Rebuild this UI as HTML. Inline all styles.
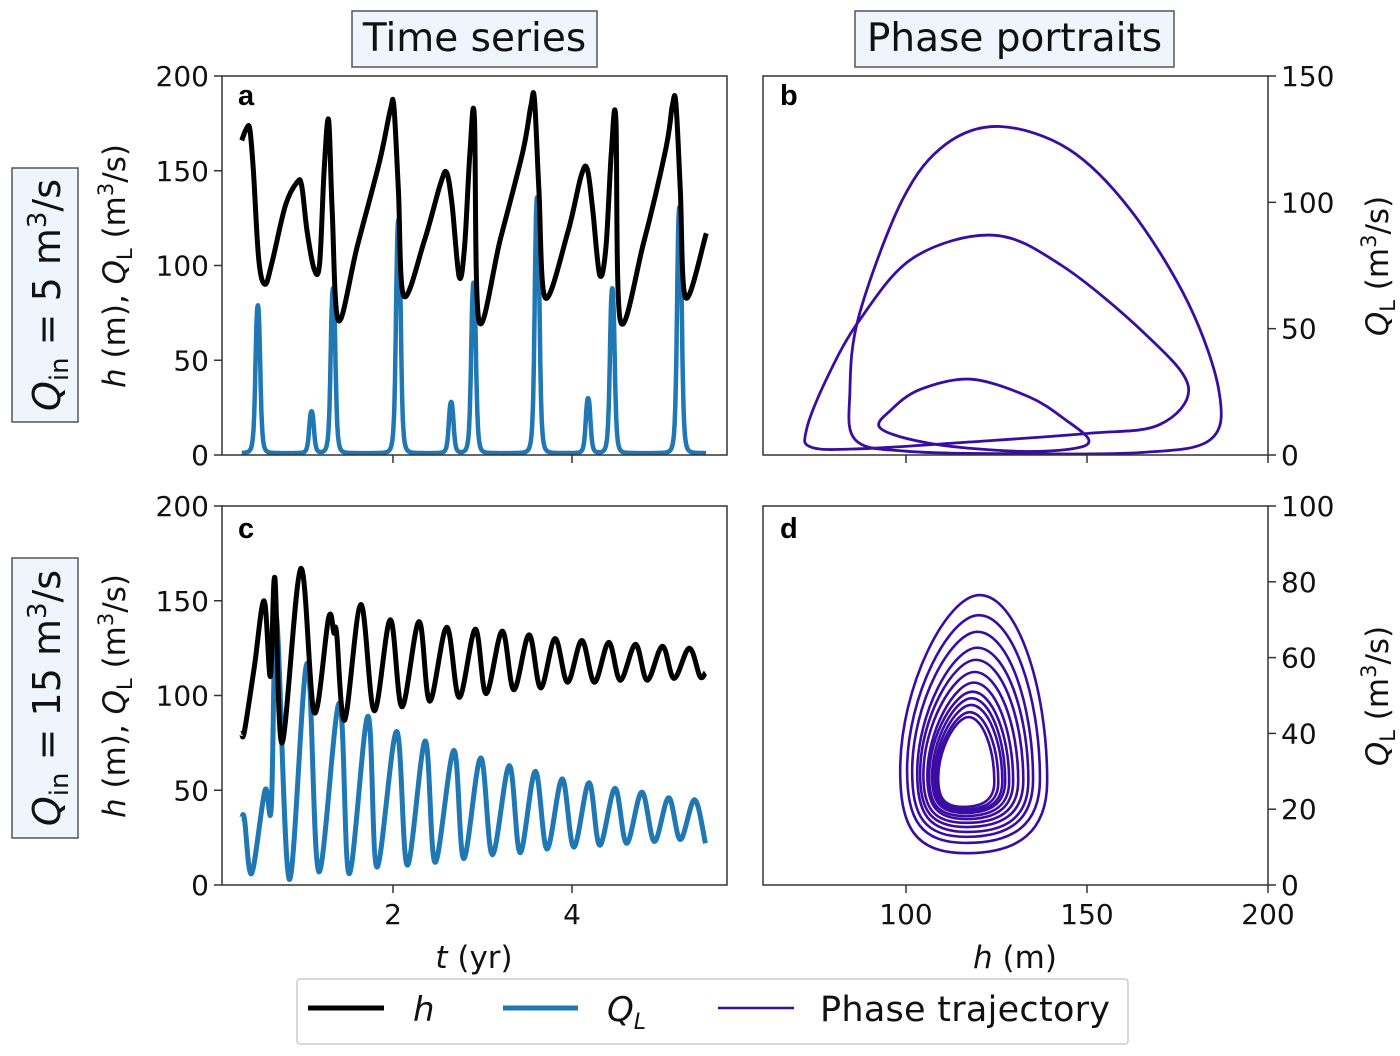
<!DOCTYPE html>
<html><head><meta charset="utf-8">
<style>
html,body{margin:0;padding:0;background:#fff;}
svg{display:block;font-family:"DejaVu Sans","Liberation Sans",sans-serif;}
</style></head>
<body>
<svg id="fig" width="1400" height="1056" viewBox="0 0 1400 1056" xmlns="http://www.w3.org/2000/svg">
<g>
<rect x="352" y="11" width="245" height="56" fill="#eef5fd" stroke="#555" stroke-width="1.5"/>
<text x="474.5" y="51" font-size="39" text-anchor="middle" fill="#111">Time series</text>
</g>
<g>
<rect x="855" y="11" width="319" height="56" fill="#eef5fd" stroke="#555" stroke-width="1.5"/>
<text x="1014.5" y="51" font-size="39" text-anchor="middle" fill="#111">Phase portraits</text>
</g>
<g>
<rect x="12" y="168" width="66" height="254" fill="#eef5fd" stroke="#555" stroke-width="1.5"/>
<text transform="translate(60,295) rotate(-90)" font-size="38" text-anchor="middle" fill="#111"><tspan font-style="italic">Q</tspan><tspan font-size="26" dy="8">in</tspan><tspan dy="-8"> = 5 m</tspan><tspan font-size="26" dy="-14">3</tspan><tspan dy="14">/s</tspan></text>
</g>
<g>
<rect x="12" y="558" width="66" height="280" fill="#eef5fd" stroke="#555" stroke-width="1.5"/>
<text transform="translate(60,698) rotate(-90)" font-size="38" text-anchor="middle" fill="#111"><tspan font-style="italic">Q</tspan><tspan font-size="26" dy="8">in</tspan><tspan dy="-8"> = 15 m</tspan><tspan font-size="26" dy="-14">3</tspan><tspan dy="14">/s</tspan></text>
</g>
<text transform="translate(125,266) rotate(-90)" font-size="31" text-anchor="middle" fill="#111"><tspan font-style="italic">h</tspan> (m), <tspan font-style="italic">Q</tspan><tspan font-size="21" dy="7">L</tspan><tspan dy="-7"> (m</tspan><tspan font-size="21" dy="-12">3</tspan><tspan dy="12">/s)</tspan></text>
<text transform="translate(125,696) rotate(-90)" font-size="31" text-anchor="middle" fill="#111"><tspan font-style="italic">h</tspan> (m), <tspan font-style="italic">Q</tspan><tspan font-size="21" dy="7">L</tspan><tspan dy="-7"> (m</tspan><tspan font-size="21" dy="-12">3</tspan><tspan dy="12">/s)</tspan></text>
<text transform="translate(1388,266) rotate(-90)" font-size="31" text-anchor="middle" fill="#111"><tspan font-style="italic">Q</tspan><tspan font-size="21" dy="7">L</tspan><tspan dy="-7"> (m</tspan><tspan font-size="21" dy="-12">3</tspan><tspan dy="12">/s)</tspan></text>
<text transform="translate(1388,696) rotate(-90)" font-size="31" text-anchor="middle" fill="#111"><tspan font-style="italic">Q</tspan><tspan font-size="21" dy="7">L</tspan><tspan dy="-7"> (m</tspan><tspan font-size="21" dy="-12">3</tspan><tspan dy="12">/s)</tspan></text>
<text x="474" y="968" font-size="31" text-anchor="middle" fill="#111"><tspan font-style="italic">t</tspan> (yr)</text>
<text x="1015" y="968" font-size="31" text-anchor="middle" fill="#111"><tspan font-style="italic">h</tspan> (m)</text>
<g id="plots"></g>
<g>
<rect x="297" y="979" width="831" height="65" fill="#fff" stroke="#ccc" stroke-width="1.5" rx="3"/>
<g>
<line x1="308" y1="1008" x2="384" y2="1008" stroke="#000" stroke-width="5"/>
<text x="413" y="1021" font-size="34" font-style="italic" fill="#111">h</text></g>
<g>
<line x1="503" y1="1008" x2="578" y2="1008" stroke="#1f77b4" stroke-width="5"/>
<text x="607" y="1021" font-size="34" fill="#111"><tspan font-style="italic">Q</tspan><tspan font-size="22" font-style="italic" dy="8">L</tspan></text></g>
<g>
<line x1="718" y1="1008" x2="794" y2="1008" stroke="#3a0ca3" stroke-width="2.5"/>
<text x="820" y="1021" font-size="35" fill="#111" textLength="290">Phase trajectory</text></g>
</g>
</svg>
<script>
// ---- data: panel a (Q_in = 5) ----
const aHT=[0.31,0.36,0.40,0.44,0.50,0.57,0.65,0.80,0.93,0.98,1.04,1.12,1.18,1.23,1.28,1.32,1.39,1.60,1.85,1.97,2.01,2.06,2.12,2.35,2.53,2.60,2.66,2.74,2.80,2.86,2.91,2.96,3.20,3.45,3.54,3.58,3.63,3.70,3.95,4.10,4.17,4.23,4.31,4.38,4.44,4.49,4.54,4.80,5.05,5.12,5.16,5.21,5.27,5.50];
const aHV=[166,172,172,150,103,90,102,132,144,142,118,98,101,150,177,130,71,110,155,182,184,140,84,113,143,149,132,94,110,160,178,71,114,160,184,188,140,83,117,147,151,130,95,110,160,177,71,112,162,184,186,140,83,117];
const aQPeakT=[0.49,1.09,1.33,2.06,2.65,2.90,3.61,4.18,4.45,5.20];
const aQPeakV=[78,22,87,123,27,90,135,29,87,130];
// ---- data: panel c (Q_in = 15) ----
const cHT=[0.31,0.34,0.45,0.56,0.63,0.68,0.76,0.97,1.12,1.28,1.34,1.37,1.46,1.64,1.79,1.97,2.10,2.29,2.41,2.60,2.74,2.92,3.04,3.22,3.35,3.52,3.65,3.81,3.95,4.11,4.25,4.41,4.54,4.71,4.84,5.01,5.14,5.31,5.43,5.49];
const cHV=[80,81,115,150,110,162,75,167,91,141,133,133,87,148,92,140,94,139,97,136,99,135,101,134,103,132,104,130,107,129,107,128,108,127,108,126,109,125,110,112];
const cQT=[0.31,0.34,0.42,0.57,0.64,0.70,0.84,1.04,1.17,1.40,1.51,1.72,1.82,2.04,2.16,2.36,2.47,2.68,2.79,2.98,3.11,3.30,3.42,3.59,3.72,3.89,4.02,4.19,4.31,4.48,4.61,4.78,4.92,5.08,5.21,5.37,5.49];
const cQV=[35,35,6,50,41,141,3,117,7,96,6,89,9.5,81,10.5,76,12,71,14,67,16,63,17,60,19,56,20,54,21,51,22,49,23,46,24,45,22];
// ---- data: panel b loops (h, Q) ----
const bLoop1H=[126,145,162,178,186.5,184,165,130,100,86,84.5,87,99,111];
const bLoop1Q=[130,121,97,60,25,6,1,0.5,1.5,6,25,55,101,123];
const bLoop2H=[124,143,166,178,170,150,116,88,74,72.5,78,87,102];
const bLoop2Q=[87,75,48,27,12,8.5,5,2.5,3,10,30,53,78];
const bLoop3H=[118,134,144,150.5,146,130,107,93,96,104];
const bLoop3Q=[30,23,14,6,2.5,1.5,4.5,10.5,18,26];
// ---- data: panel d nested loops ----
const dTopQ=[76.5,71.2,66.8,62.6,59.4,56.2,53.4,51,49.3,47.5,45.6,44.3];
const dBottomQ=[8.4,11.1,12.7,14,15.3,16.4,17.4,18.2,19,19.5,20,20.6];
const dLeftH=[98.4,100.3,101.7,103.1,103.9,104.8,105.9,106.4,107.2,107.8,108.3,108.9];
const dRightH=[139,137,135.1,133.8,132.4,131,129.6,128.5,127.4,126.6,125.5,124.4];
// tick labels
const hTicks=[0,50,100,150,200];
const tTicks=[2,4];
const bQTicks=[0,50,100,150];
const dQTicks=[0,20,40,60,80,100];
const dHTicks=[100,150,200];

const NS='http://www.w3.org/2000/svg';
const root=document.getElementById('plots');
function mk(tag,attrs,parent){const e=document.createElementNS(NS,tag);for(const k in attrs)e.setAttribute(k,attrs[k]);(parent||root).appendChild(e);return e;}
function lin(d0,d1,p0,p1){return v=>p0+(v-d0)*(p1-p0)/(d1-d0);}
function crPath(pts,closed){
  const n=pts.length;let d='M'+pts[0][0].toFixed(1)+','+pts[0][1].toFixed(1);
  const last=closed?n:n-1;
  for(let i=0;i<last;i++){
    const p0=pts[closed?(i-1+n)%n:Math.max(i-1,0)],p1=pts[i],p2=pts[(i+1)%n],p3=pts[closed?(i+2)%n:Math.min(i+2,n-1)];
    const c1=[p1[0]+(p2[0]-p0[0])/6,p1[1]+(p2[1]-p0[1])/6],c2=[p2[0]-(p3[0]-p1[0])/6,p2[1]-(p3[1]-p1[1])/6];
    d+='C'+c1.map(v=>v.toFixed(1))+' '+c2.map(v=>v.toFixed(1))+' '+p2[0].toFixed(1)+','+p2[1].toFixed(1);
  }
  return d+(closed?'Z':'');
}
function frame(x,y,w,h,name){const r=mk('rect',{x:x,y:y,width:w,height:h,fill:'none',stroke:'#333','stroke-width':1.5});}
function yTicksLeft(ticks,sy,x,name){const g=mk('g',{});
  ticks.forEach(v=>{const y=sy(v);mk('line',{x1:x-8,x2:x,y1:y,y2:y,stroke:'#333','stroke-width':1.5},g);const t=mk('text',{x:x-13,y:y+10,'font-size':28,'text-anchor':'end',fill:'#111'},g);t.textContent=v;});}
function yTicksRight(ticks,sy,x,name){const g=mk('g',{});
  ticks.forEach(v=>{const y=sy(v);mk('line',{x1:x,x2:x+8,y1:y,y2:y,stroke:'#333','stroke-width':1.5},g);const t=mk('text',{x:x+13,y:y+10,'font-size':28,'text-anchor':'start',fill:'#111'},g);t.textContent=v;});}
function xTicks(ticks,sx,y,labels,name){const g=mk('g',{});
  ticks.forEach(v=>{const x=sx(v);mk('line',{x1:x,x2:x,y1:y,y2:y+8,stroke:'#333','stroke-width':1.5},g);if(labels){const t=mk('text',{x:x,y:y+39,'font-size':28,'text-anchor':'middle',fill:'#111'},g);t.textContent=v;}});}
function letter(x,y,s,name){const t=mk('text',{x:x,y:y,'font-size':29,'font-weight':'bold',fill:'#000','font-family':'Liberation Sans, sans-serif'});t.textContent=s;}

const sxT=lin(0,1,214,303.5);
const syA=lin(0,200,455,76);
const syC=lin(0,200,885,506);
const sxH=lin(100,150,906,1087);
const syB=lin(0,150,455,76);
const syD=lin(0,100,885,506);

const defs=mk('defs',{});
[['ca',222,76],['cb',763,76],['cc',222,506],['cd',763,506]].forEach(c=>{const cp=mk('clipPath',{id:c[0]},defs);mk('rect',{x:c[1],y:c[2],width:505,height:379},cp);});

// panel a
const gA=mk('g',{'clip-path':'url(#ca)'});


{
  const qpts=[];for(let t=0.31;t<=5.5;t+=0.004){let q=1;aQPeakT.forEach((tp,i)=>{const z=(t-tp)/0.03;q+=aQPeakV[i]/(1+z*z*z*z*0.6+z*z*0.4);});qpts.push([sxT(t),syA(q)]);}
  const pq=mk('path',{d:'M'+qpts.map(p=>p[0].toFixed(1)+','+p[1].toFixed(1)).join('L'),fill:'none',stroke:'#1f77b4','stroke-width':4.5,'stroke-linejoin':'round'},gA);
  
  const ph=mk('path',{d:crPath(aHT.map((t,i)=>[sxT(t),syA(aHV[i])]),false),fill:'none',stroke:'#000','stroke-width':5,'stroke-linejoin':'round'},gA);
  
}
frame(222,76,505,379,'panel-a-frame');
yTicksLeft(hTicks,syA,222,'y-ticks-a');
xTicks(tTicks,sxT,455,false,'x-ticks-a');
letter(238,105,'a','panel-label-a');

// panel c
const gC=mk('g',{'clip-path':'url(#cc)'});


{
  const pq=mk('path',{d:crPath(cQT.map((t,i)=>[sxT(t),syC(cQV[i])]),false),fill:'none',stroke:'#1f77b4','stroke-width':5,'stroke-linejoin':'round'},gC);
  
  const ph=mk('path',{d:crPath(cHT.map((t,i)=>[sxT(t),syC(cHV[i])]),false),fill:'none',stroke:'#000','stroke-width':5,'stroke-linejoin':'round'},gC);
  
}
frame(222,506,505,379,'panel-c-frame');
yTicksLeft(hTicks,syC,222,'y-ticks-c');
xTicks(tTicks,sxT,885,true,'x-ticks-c');
letter(238,538,'c','panel-label-c');

// panel b
const gB=mk('g',{'clip-path':'url(#cb)'});


[[bLoop1H,bLoop1Q],[bLoop2H,bLoop2Q],[bLoop3H,bLoop3Q]].forEach((L,k)=>{
  const p=mk('path',{d:crPath(L[0].map((h,i)=>[sxH(h),syB(L[1][i])]),true),fill:'none',stroke:'#3a0ca3','stroke-width':2.8},gB);
  
});
frame(763,76,505,379,'panel-b-frame');
yTicksRight(bQTicks,syB,1268,'y-ticks-b');
xTicks(dHTicks,sxH,455,false,'x-ticks-b');
letter(780,105,'b','panel-label-b');

// panel d
const gD=mk('g',{'clip-path':'url(#cd)'});


dTopQ.forEach((tq,i)=>{
  const xl=sxH(dLeftH[i]),xr=sxH(dRightH[i]),yt=syD(tq),yb=syD(dBottomQ[i]);
  const w=xr-xl,hh=yb-yt;
  const xt=xl+0.54*w,xb=xl+0.45*w;
  const yr=yt+0.72*hh,yl=yt+0.68*hh;
  const d=`M${xt},${yt} C${xt+0.25*w},${yt} ${xr},${yt+0.35*hh} ${xr},${yr} C${xr},${yr+0.2*hh} ${xb+0.35*w},${yb} ${xb},${yb} C${xb-0.35*w},${yb} ${xl},${yl+0.22*hh} ${xl},${yl} C${xl},${yt+0.35*hh} ${xt-0.22*w},${yt} ${xt},${yt}Z`;
  const p=mk('path',{d:d,fill:'none',stroke:'#3a0ca3','stroke-width':2.6},gD);
  
});
frame(763,506,505,379,'panel-d-frame');
yTicksRight(dQTicks,syD,1268,'y-ticks-d');
xTicks(dHTicks,sxH,885,true,'x-ticks-d');
letter(780,538,'d','panel-label-d');
</script>
</body></html>
